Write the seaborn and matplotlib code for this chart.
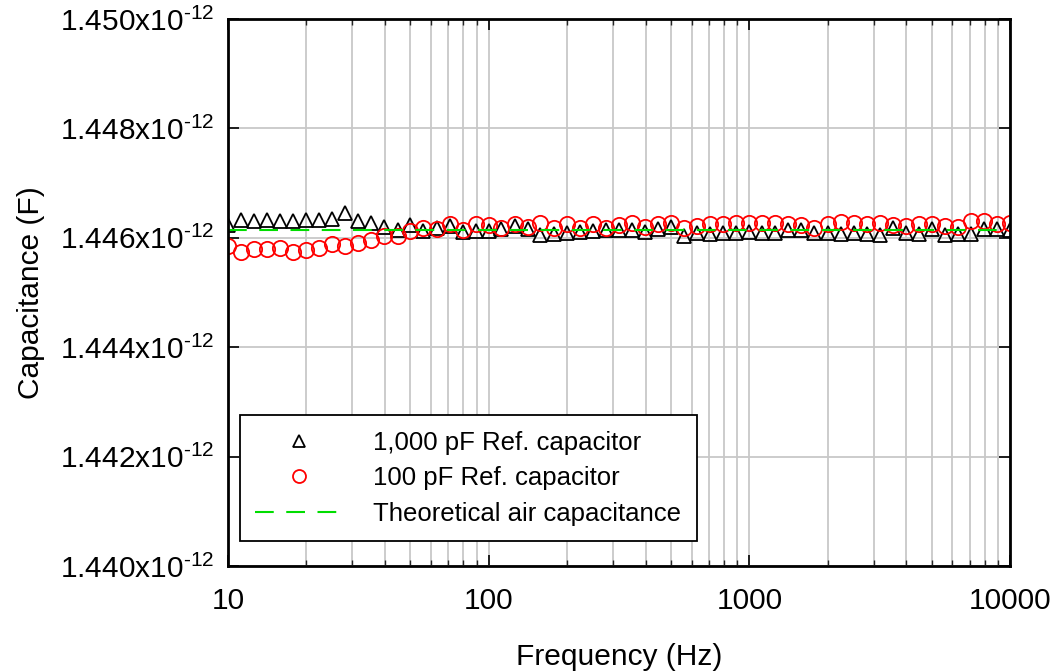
#!/usr/bin/env python
"""Capacitance of the air gap vs frequency, two reference capacitors."""

import numpy as np
import pandas as pd
import matplotlib
matplotlib.use('Agg')
import matplotlib.pyplot as plt
import matplotlib.ticker as mticker
import seaborn as sns

# Frequency points (Hz), 20 per decade
freq = [10, 11.2, 12.6, 14.1, 15.8, 17.8, 20.0, 22.4, 25.1, 28.2,
        31.6, 35.5, 39.8, 44.7, 50.1, 56.2, 63.1, 70.8, 79.4, 89.1,
        100, 112, 126, 141, 158, 178, 200, 224, 251, 282,
        316, 355, 398, 447, 501, 562, 631, 708, 794, 891,
        1000, 1122, 1259, 1413, 1585, 1778, 1995, 2239, 2512, 2818,
        3162, 3548, 3981, 4467, 5012, 5623, 6310, 7079, 7943, 8913,
        10000]

# Measured capacitance (pF) with the 1,000 pF reference capacitor
cap_1000pf = [1.44624, 1.44633, 1.44631, 1.44633, 1.44631, 1.44631, 1.44633, 1.44633, 1.44635, 1.44646,
              1.44631, 1.44627, 1.44620, 1.44615, 1.44624, 1.44613, 1.44618, 1.44622, 1.44611, 1.44613,
              1.44613, 1.44616, 1.44622, 1.44616, 1.44605, 1.44607, 1.44609, 1.44611, 1.44613, 1.44615,
              1.44615, 1.44615, 1.44611, 1.44616, 1.44620, 1.44604, 1.44609, 1.44607, 1.44609, 1.44609,
              1.44611, 1.44609, 1.44609, 1.44615, 1.44615, 1.44609, 1.44609, 1.44607, 1.44609, 1.44607,
              1.44605, 1.44618, 1.44609, 1.44607, 1.44616, 1.44605, 1.44607, 1.44607, 1.44616, 1.44616,
              1.44615]

# Measured capacitance (pF) with the 100 pF reference capacitor
cap_100pf = [1.44585, 1.44574, 1.44580, 1.44580, 1.44582, 1.44574, 1.44578, 1.44582, 1.44589, 1.44585,
             1.44591, 1.44596, 1.44604, 1.44604, 1.44613, 1.44618, 1.44616, 1.44625, 1.44615, 1.44625,
             1.44624, 1.44618, 1.44625, 1.44620, 1.44627, 1.44618, 1.44625, 1.44618, 1.44625, 1.44618,
             1.44624, 1.44627, 1.44620, 1.44625, 1.44627, 1.44618, 1.44622, 1.44625, 1.44625, 1.44627,
             1.44627, 1.44627, 1.44627, 1.44625, 1.44624, 1.44618, 1.44625, 1.44629, 1.44627, 1.44625,
             1.44627, 1.44624, 1.44622, 1.44625, 1.44625, 1.44622, 1.44620, 1.44631, 1.44631, 1.44625,
             1.44627]

# Theoretical air capacitance (pF)
theory_freq = [10, 10000]
theory_cap = [1.44615, 1.44615]

ytick_vals = [1.440, 1.442, 1.444, 1.446, 1.448, 1.450]
ytick_labels = [r'1.440x10$^{\text{-12}}$', r'1.442x10$^{\text{-12}}$', r'1.444x10$^{\text{-12}}$',
                r'1.446x10$^{\text{-12}}$', r'1.448x10$^{\text{-12}}$', r'1.450x10$^{\text{-12}}$']
xtick_vals = [10, 100, 1000, 10000]
xtick_labels = ['10', '100', '1000', '10000']

df = pd.DataFrame({'freq': freq,
                   'c1000': np.array(cap_1000pf) * 1e-12,
                   'c100': np.array(cap_100pf) * 1e-12})
th = pd.DataFrame({'freq': theory_freq, 'cap': np.array(theory_cap) * 1e-12})

sns.set_style('ticks')
plt.rcParams['font.family'] = ['Liberation Sans', 'DejaVu Sans']
plt.rcParams['mathtext.fontset'] = 'custom'
plt.rcParams['mathtext.rm'] = 'Liberation Sans'
plt.rcParams['mathtext.it'] = 'Liberation Sans'
plt.rcParams['text.color'] = 'black'
plt.rcParams['axes.labelcolor'] = 'black'

fig = plt.figure(figsize=(10.6, 6.72), dpi=100)
ax = fig.add_axes([228 / 1060, 1 - 566 / 672, (1010 - 228) / 1060, (566 - 19) / 672])

sns.lineplot(data=df, x='freq', y='c1000', ax=ax, linestyle='', marker='^',
             markersize=10.5, mfc='none', mec='black', mew=1.3,
             label='1,000 pF Ref. capacitor')
sns.lineplot(data=df, x='freq', y='c100', ax=ax, linestyle='', marker='o',
             markersize=11, mfc='none', mec='red', mew=1.3,
             label='100 pF Ref. capacitor')
sns.lineplot(data=th, x='freq', y='cap', ax=ax, color='#00dd00', lw=1.5,
             dashes=(9, 6), label='Theoretical air capacitance')

ax.set_xscale('log')
ax.set_xlim(10, 10000)
ax.set_ylim(1.440e-12, 1.450e-12)
ax.set_xticks(xtick_vals)
ax.set_xticklabels(xtick_labels)
ax.xaxis.set_minor_locator(mticker.LogLocator(base=10, subs=np.arange(2, 10)))
ax.xaxis.set_minor_formatter(mticker.NullFormatter())
ax.set_yticks(np.array(ytick_vals) * 1e-12)
ax.set_yticklabels(ytick_labels)

ax.grid(True, which='both', axis='x', color='#c8c8c8', lw=1.3)
ax.grid(True, which='major', axis='y', color='#c8c8c8', lw=1.3)
ax.set_axisbelow(True)

ax.tick_params(which='major', direction='in', length=8, width=1.2,
               top=True, right=True, labelsize=21.5, colors='black')
ax.tick_params(axis='x', which='major', pad=15)
ax.tick_params(axis='y', which='major', pad=10)
ax.tick_params(which='minor', direction='in', length=4, width=1,
               top=True, right=True)
for s in ax.spines.values():
    s.set_linewidth(2)
    s.set_color('black')

ax.set_xlabel('Frequency (Hz)', fontsize=21.5, labelpad=20)
ax.set_ylabel('Capacitance (F)', fontsize=21.5, labelpad=11)

leg = ax.legend(loc='lower left', bbox_to_anchor=(0.015, 0.045), fontsize=18.5,
                frameon=True, fancybox=False, edgecolor='black', framealpha=1,
                handlelength=3.4, handletextpad=1.2, borderpad=0.6, labelspacing=0.45,
                borderaxespad=0, markerscale=0.85)
leg.get_frame().set_linewidth(1.3)

plt.savefig('out.png', dpi=100)
print("Saved: out.png")
